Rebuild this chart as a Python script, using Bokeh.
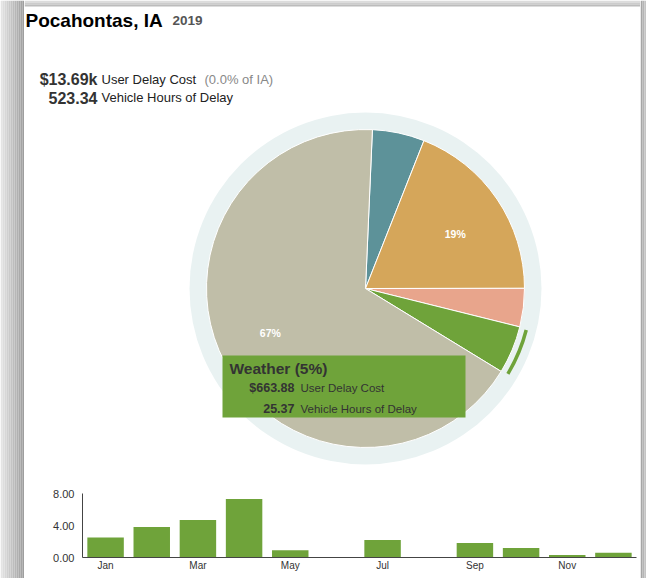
import math
from bokeh.plotting import figure
from bokeh.layouts import row, column
from bokeh.models import Range1d, FixedTicker, NumeralTickFormatter
from bokeh.core.properties import value
from bokeh.embed import file_html
from bokeh.resources import INLINE

# ---------------- data ----------------
place = "Pocahontas, IA"
year = "2019"
total_cost_label = "$13.69k"
total_hours = 523.34
state_share = "0.0% of IA"

# pie slices (user delay cost, $), clockwise from the top
slice_names = ["Cause A", "Cause B", "Cause C", "Weather", "Cause E"]
slice_costs = [725.0, 2600.0, 534.0, 663.88, 9167.0]
slice_colors = ["#5d9299", "#d5a65a", "#e8a58c", "#6fa33a", "#c0bea8"]

weather_cost = 663.88
weather_hours = 25.37

# monthly weather vehicle hours of delay
months = ["Jan", "Feb", "Mar", "Apr", "May", "Jun", "Jul", "Aug", "Sep", "Oct", "Nov", "Dec"]
month_hours = [2.5, 3.8, 4.7, 7.3, 0.9, 0.0, 2.2, 0.0, 1.8, 1.2, 0.3, 0.6]
y_ticks = [0, 4, 8]

FONT = value("Liberation Sans")
GREEN = "#6fa33a"
H = 578


def bare(fig):
    fig.axis.visible = False
    fig.grid.visible = False
    fig.outline_line_color = None


def gradient(c0, c1, n):
    out = []
    for i in range(n):
        t = i / (n - 1)
        g = int(c0 + (c1 - c0) * t)
        out.append("#%02x%02x%02x" % (g, g, g))
    return out


# ---------------- shadow strips ----------------
lstrip = figure(width=24, height=H, x_range=Range1d(0, 24), y_range=Range1d(0, 1),
                toolbar_location=None, output_backend="svg", min_border=0, frame_align=False)
bare(lstrip)
ls = gradient(0xe4, 0x9e, 12)
lstrip.quad(left=[2 * i for i in range(12)], right=[2 * i + 2 for i in range(12)],
            bottom=[0] * 12, top=[1] * 12, fill_color=ls, line_color=None)

rstrip = figure(width=6, height=H, x_range=Range1d(0, 6), y_range=Range1d(0, 1),
                toolbar_location=None, output_backend="svg", min_border=0, frame_align=False)
bare(rstrip)
rs = gradient(0xa6, 0xc4, 3)
rstrip.quad(left=[0, 2, 4], right=[2, 4, 6], bottom=[0] * 3, top=[1] * 3,
            fill_color=rs, line_color=None)

# ---------------- top (header + pie) ----------------
TW, TH = 616, 480
BH = 93
SH = H - TH - BH
top = figure(width=TW, height=TH, x_range=Range1d(0, TW), y_range=Range1d(0, TH),
             toolbar_location=None, output_backend="svg", min_border=0, frame_align=False)
bare(top)
top.background_fill_color = "white"
top.border_fill_color = "white"

# top shadow band
tb = gradient(0xdc, 0xbc, 3)
top.quad(left=[0] * 3, right=[TW] * 3, bottom=[478, 476, 474], top=[480, 478, 476],
         fill_color=tb, line_color=None)


def txt(fig, x, y, s, size, color="#333333", bold=False, align="left", baseline="alphabetic"):
    fig.text(x=[x], y=[y], text=[s], text_font=FONT, text_font_size=size,
             text_color=color, text_font_style="bold" if bold else "normal",
             text_align=align, text_baseline=baseline)


txt(top, 1, 460, place, "19px", "#000000", bold=True)
txt(top, 148, 460, year, "13.5px", "#555555", bold=True)

txt(top, 73, 401, total_cost_label, "16px", "#333333", bold=True, align="right")
txt(top, 77, 401, "User Delay Cost", "13px", "#222222")
txt(top, 180, 401, "(" + state_share + ")", "13px", "#888888")
txt(top, 73, 383, "%.2f" % total_hours, "16px", "#333333", bold=True, align="right")
txt(top, 77, 383, "Vehicle Hours of Delay", "13px", "#222222")

cx, cy = 341, 192
R, RING = 159, 176
top.circle(x=[cx], y=[cy], radius=RING, fill_color="#e9f2f2", line_color=None)

total = sum(slice_costs)
start_offset = 2.5  # degrees clockwise from 12 o'clock
starts, ends, mids = [], [], []
acc = start_offset
for c in slice_costs:
    a = c / total * 360.0
    th1, th2 = acc, acc + a
    starts.append(math.radians(90 - th2))
    ends.append(math.radians(90 - th1))
    mids.append((th1 + th2) / 2)
    acc = th2

top.wedge(x=cx, y=cy, radius=R, start_angle=starts, end_angle=ends,
          fill_color=slice_colors, line_color="white", line_width=1)

# percentage labels for large slices
for c, m in zip(slice_costs, mids):
    pct = c / total * 100
    if pct >= 10:
        lx = cx + 105 * math.sin(math.radians(m + 3))
        ly = cy + 105 * math.cos(math.radians(m + 3))
        txt(top, lx, ly, "%d%%" % round(pct), "10.5px", "white", bold=True,
            align="center", baseline="middle")

# highlight arc around the weather slice
wi = slice_names.index("Weather")
pad = math.radians(0.5)
top.arc(x=cx, y=cy, radius=166, start_angle=starts[wi] + pad, end_angle=ends[wi] - pad,
        line_color=GREEN, line_width=3.5)

# tooltip
top.quad(left=[198], right=[441], top=[125], bottom=[63], fill_color=GREEN, line_color=None)
wpct = round(weather_cost / total * 100)
txt(top, 205, 112, "Weather (%d%%)" % wpct, "15.5px", "#333333", bold=True)
txt(top, 270, 93, "$%.2f" % weather_cost, "12.5px", "#333333", bold=True, align="right")
txt(top, 276, 93, "User Delay Cost", "11.5px", "#333333")
txt(top, 270, 72, "%.2f" % weather_hours, "12.5px", "#333333", bold=True, align="right")
txt(top, 276, 72, "Vehicle Hours of Delay", "11.5px", "#333333")

# ---------------- bottom (monthly bars) ----------------
bot = figure(width=TW, height=BH, x_range=Range1d(-0.5, 11.5), y_range=Range1d(0, 8),
             toolbar_location=None, output_backend="svg", frame_align=False,
             min_border_left=58, min_border_right=4, min_border_top=13, min_border_bottom=16)
bot.grid.visible = False
bot.outline_line_color = None
bot.vbar(x=list(range(len(months))), top=month_hours, width=0.79, bottom=0,
         fill_color=GREEN, line_color=None)

xa = bot.xaxis[0]
xa.ticker = FixedTicker(ticks=list(range(0, 12, 2)))
xa.major_label_overrides = {i: months[i] for i in range(0, 12, 2)}
xa.major_tick_line_color = None
xa.minor_tick_line_color = None
xa.major_tick_out = 0
xa.major_tick_in = 0
xa.minor_tick_out = 0
xa.axis_line_color = "#444444"
xa.major_label_standoff = 2
xa.major_label_text_font = "Liberation Sans"
xa.major_label_text_font_size = "10px"
xa.major_label_text_color = "#333333"

ya = bot.yaxis[0]
ya.ticker = FixedTicker(ticks=y_ticks)
ya.formatter = NumeralTickFormatter(format="0.00")
ya.major_tick_line_color = None
ya.minor_tick_line_color = None
ya.major_tick_out = 0
ya.major_tick_in = 0
ya.minor_tick_out = 0
ya.axis_line_color = "#444444"
ya.major_label_standoff = 8
ya.major_label_text_font = "Liberation Sans"
ya.major_label_text_font_size = "11px"
ya.major_label_text_color = "#333333"

# bottom shadow band
bstrip = figure(width=TW, height=SH, x_range=Range1d(0, 1), y_range=Range1d(0, SH),
                toolbar_location=None, output_backend="svg", min_border=0, frame_align=False)
bare(bstrip)
bs = gradient(0xa8, 0xd0, SH)
bstrip.quad(left=[0] * SH, right=[1] * SH, top=[SH - i for i in range(SH)],
            bottom=[SH - i - 1 for i in range(SH)], fill_color=bs, line_color=None)

layout = row(lstrip, column(top, bot, bstrip), rstrip)
open("out.html", "w").write(file_html(layout, INLINE))
